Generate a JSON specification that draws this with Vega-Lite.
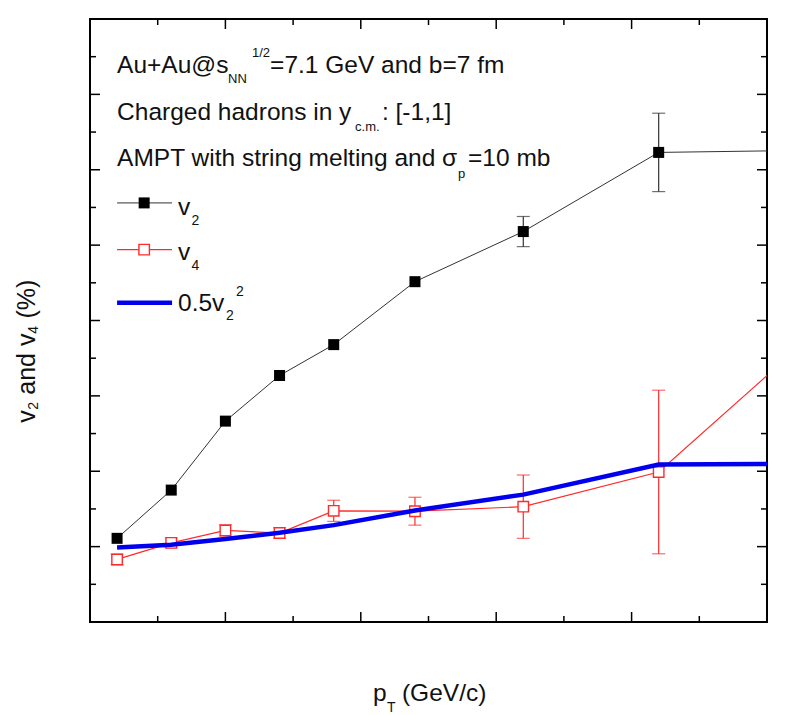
{
  "$schema": "https://vega.github.io/schema/vega-lite/v6.json",
  "width": 677,
  "height": 603,
  "autosize": "none",
  "padding": {"left": 90, "top": 19, "right": 22, "bottom": 93},
  "background": "white",
  "config": {
    "view": {"stroke": "black", "strokeWidth": 2},
    "text": {"font": "Liberation Sans", "color": "#111", "align": "left", "baseline": "alphabetic"},
    "axis": {"labelFont": "Liberation Sans", "grid": false}
  },
  "datasets": {
    "v2": [
      {"pT": 0.1, "v": 0.22},
      {"pT": 0.3, "v": 1.5},
      {"pT": 0.5, "v": 3.33},
      {"pT": 0.7, "v": 4.54},
      {"pT": 0.9, "v": 5.36},
      {"pT": 1.2, "v": 7.03},
      {"pT": 1.6, "v": 8.36, "lo": 7.96, "hi": 8.76},
      {"pT": 2.1, "v": 10.46, "lo": 9.42, "hi": 11.5},
      {"pT": 2.7, "v": 10.52}
    ],
    "v4": [
      {"pT": 0.1, "v": -0.34, "lo": -0.48, "hi": -0.2},
      {"pT": 0.3, "v": 0.1, "lo": -0.03, "hi": 0.23},
      {"pT": 0.5, "v": 0.43, "lo": 0.28, "hi": 0.58},
      {"pT": 0.7, "v": 0.36, "lo": 0.22, "hi": 0.5},
      {"pT": 0.9, "v": 0.95, "lo": 0.67, "hi": 1.23},
      {"pT": 1.2, "v": 0.94, "lo": 0.57, "hi": 1.31},
      {"pT": 1.6, "v": 1.06, "lo": 0.22, "hi": 1.9},
      {"pT": 2.1, "v": 1.98, "lo": -0.19, "hi": 4.15},
      {"pT": 2.7, "v": 5.82}
    ],
    "half_v2sq": [
      {"pT": 0.1, "v": -0.02},
      {"pT": 0.3, "v": 0.05},
      {"pT": 0.5, "v": 0.2},
      {"pT": 0.7, "v": 0.37},
      {"pT": 0.9, "v": 0.57},
      {"pT": 1.2, "v": 0.96},
      {"pT": 1.6, "v": 1.38},
      {"pT": 2.1, "v": 2.18},
      {"pT": 2.7, "v": 2.2}
    ],
    "xticks": [
      {"t": 0, "kind": "major"}, {"t": 0.25, "kind": "minor"}, {"t": 0.5, "kind": "major"}, {"t": 0.75, "kind": "minor"},
      {"t": 1, "kind": "major"}, {"t": 1.25, "kind": "minor"}, {"t": 1.5, "kind": "major"}, {"t": 1.75, "kind": "minor"},
      {"t": 2, "kind": "major"}, {"t": 2.25, "kind": "minor"}, {"t": 2.5, "kind": "major"}
    ],
    "yticks": [
      {"t": -2, "kind": "major"}, {"t": -1, "kind": "minor"}, {"t": 0, "kind": "major"}, {"t": 1, "kind": "minor"},
      {"t": 2, "kind": "major"}, {"t": 3, "kind": "minor"}, {"t": 4, "kind": "major"}, {"t": 5, "kind": "minor"},
      {"t": 6, "kind": "major"}, {"t": 7, "kind": "minor"}, {"t": 8, "kind": "major"}, {"t": 9, "kind": "minor"},
      {"t": 10, "kind": "major"}, {"t": 11, "kind": "minor"}, {"t": 12, "kind": "major"}, {"t": 13, "kind": "minor"},
      {"t": 14, "kind": "major"}
    ]
  },
  "data": {"values": [{}]},
  "layer": [
    {
      "data": {"name": "v2"},
      "mark": {"type": "line", "color": "#333", "strokeWidth": 1, "clip": true},
      "encoding": {
        "x": {"field": "pT", "type": "quantitative", "scale": {"domain": [0, 2.5], "nice": false, "zero": false},
          "axis": {"orient": "bottom", "values": [0, 0.5, 1, 1.5, 2, 2.5], "format": ".1f", "ticks": false, "tickSize": 0, "domain": false, "labelFontSize": 19.5, "labelPadding": 19, "labelFlush": false, "labelOverlap": false, "labelColor": "#111", "title": null}},
        "y": {"field": "v", "type": "quantitative", "scale": {"domain": [-2, 14], "nice": false, "zero": false},
          "axis": {"orient": "left", "values": [-2, 0, 2, 4, 6, 8, 10, 12, 14], "format": "d", "labelExpr": "replace(datum.label, '−', '-')", "ticks": false, "tickSize": 0, "domain": false, "labelFontSize": 20, "labelPadding": 10, "labelFlush": false, "labelOverlap": false, "labelColor": "#111", "title": null}}
      }
    },
    {
      "data": {"name": "xticks"},
      "mark": {"type": "tick", "orient": "vertical", "color": "black", "thickness": 1.5, "opacity": 1, "clip": true},
      "encoding": {
        "x": {"field": "t", "type": "quantitative", "axis": null},
        "y": {"datum": -2, "axis": null},
        "size": {"field": "kind", "type": "ordinal", "scale": {"domain": ["major", "minor"], "range": [20, 12]}, "legend": null}
      }
    },
    {
      "data": {"name": "xticks"},
      "mark": {"type": "tick", "orient": "vertical", "color": "black", "thickness": 1.5, "opacity": 1, "clip": true},
      "encoding": {
        "x": {"field": "t", "type": "quantitative", "axis": null},
        "y": {"datum": 14, "axis": null},
        "size": {"field": "kind", "type": "ordinal", "scale": {"domain": ["major", "minor"], "range": [20, 12]}, "legend": null}
      }
    },
    {
      "data": {"name": "yticks"},
      "mark": {"type": "tick", "orient": "horizontal", "color": "black", "thickness": 1.5, "opacity": 1, "clip": true},
      "encoding": {
        "y": {"field": "t", "type": "quantitative", "axis": null},
        "x": {"datum": 0, "axis": null},
        "size": {"field": "kind", "type": "ordinal", "scale": {"domain": ["major", "minor"], "range": [20, 12]}, "legend": null}
      }
    },
    {
      "data": {"name": "yticks"},
      "mark": {"type": "tick", "orient": "horizontal", "color": "black", "thickness": 1.5, "opacity": 1, "clip": true},
      "encoding": {
        "y": {"field": "t", "type": "quantitative", "axis": null},
        "x": {"datum": 2.5, "axis": null},
        "size": {"field": "kind", "type": "ordinal", "scale": {"domain": ["major", "minor"], "range": [20, 12]}, "legend": null}
      }
    },
    {
      "data": {"name": "v2"},
      "mark": {"type": "rule", "color": "#333", "strokeWidth": 1.2, "clip": true},
      "encoding": {
        "x": {"field": "pT", "type": "quantitative", "axis": null},
        "y": {"field": "lo", "type": "quantitative", "axis": null},
        "y2": {"field": "hi"}
      }
    },
    {
      "data": {"name": "v2"},
      "mark": {"type": "tick", "orient": "horizontal", "color": "#333", "size": 13, "thickness": 1.2, "clip": true},
      "encoding": {
        "x": {"field": "pT", "type": "quantitative", "axis": null},
        "y": {"field": "hi", "type": "quantitative", "axis": null}
      }
    },
    {
      "data": {"name": "v2"},
      "mark": {"type": "tick", "orient": "horizontal", "color": "#333", "size": 13, "thickness": 1.2, "clip": true},
      "encoding": {
        "x": {"field": "pT", "type": "quantitative", "axis": null},
        "y": {"field": "lo", "type": "quantitative", "axis": null}
      }
    },
    {
      "data": {"name": "v2"},
      "mark": {"type": "point", "shape": "square", "filled": true, "color": "black", "size": 121, "opacity": 1, "clip": true},
      "encoding": {
        "x": {"field": "pT", "type": "quantitative", "axis": null},
        "y": {"field": "v", "type": "quantitative", "axis": null}
      }
    },
    {
      "data": {"name": "v4"},
      "mark": {"type": "line", "color": "#ff2a2a", "strokeWidth": 1.2, "clip": true},
      "encoding": {
        "x": {"field": "pT", "type": "quantitative", "axis": null},
        "y": {"field": "v", "type": "quantitative", "axis": null}
      }
    },
    {
      "data": {"name": "v4"},
      "mark": {"type": "rule", "color": "#ff2a2a", "strokeWidth": 1.2, "clip": true},
      "encoding": {
        "x": {"field": "pT", "type": "quantitative", "axis": null},
        "y": {"field": "lo", "type": "quantitative", "axis": null},
        "y2": {"field": "hi"}
      }
    },
    {
      "data": {"name": "v4"},
      "mark": {"type": "tick", "orient": "horizontal", "color": "#ff2a2a", "size": 13, "thickness": 1.2, "clip": true},
      "encoding": {
        "x": {"field": "pT", "type": "quantitative", "axis": null},
        "y": {"field": "hi", "type": "quantitative", "axis": null}
      }
    },
    {
      "data": {"name": "v4"},
      "mark": {"type": "tick", "orient": "horizontal", "color": "#ff2a2a", "size": 13, "thickness": 1.2, "clip": true},
      "encoding": {
        "x": {"field": "pT", "type": "quantitative", "axis": null},
        "y": {"field": "lo", "type": "quantitative", "axis": null}
      }
    },
    {
      "data": {"name": "v4"},
      "mark": {"type": "point", "shape": "square", "filled": false, "fill": "white", "fillOpacity": 1, "stroke": "#ff2a2a", "strokeWidth": 1.4, "size": 110, "opacity": 1, "clip": true},
      "encoding": {
        "x": {"field": "pT", "type": "quantitative", "axis": null},
        "y": {"field": "v", "type": "quantitative", "axis": null}
      }
    },
    {
      "data": {"name": "half_v2sq"},
      "mark": {"type": "line", "color": "#0000ee", "strokeWidth": 4.5, "clip": true},
      "encoding": {
        "x": {"field": "pT", "type": "quantitative", "axis": null},
        "y": {"field": "v", "type": "quantitative", "axis": null}
      }
    },
    {"mark": {"type": "text", "text": "Au+Au@s", "fontSize": 24.5}, "encoding": {"x": {"datum": 0.1, "axis": null}, "y": {"datum": 12.57, "axis": null}}},
    {"mark": {"type": "text", "text": "NN", "fontSize": 13}, "encoding": {"x": {"datum": 0.51, "axis": null}, "y": {"datum": 12.3, "axis": null}}},
    {"mark": {"type": "text", "text": "1/2", "fontSize": 13}, "encoding": {"x": {"datum": 0.598, "axis": null}, "y": {"datum": 12.98, "axis": null}}},
    {"mark": {"type": "text", "text": "=7.1 GeV and b=7 fm", "fontSize": 24.5}, "encoding": {"x": {"datum": 0.665, "axis": null}, "y": {"datum": 12.57, "axis": null}}},
    {"mark": {"type": "text", "text": "Charged hadrons in y", "fontSize": 24.5}, "encoding": {"x": {"datum": 0.1, "axis": null}, "y": {"datum": 11.33, "axis": null}}},
    {"mark": {"type": "text", "text": "c.m.", "fontSize": 13}, "encoding": {"x": {"datum": 0.979, "axis": null}, "y": {"datum": 11.02, "axis": null}}},
    {"mark": {"type": "text", "text": ": [-1,1]", "fontSize": 24.5}, "encoding": {"x": {"datum": 1.078, "axis": null}, "y": {"datum": 11.33, "axis": null}}},
    {"mark": {"type": "text", "text": "AMPT with string melting and σ", "fontSize": 24.5}, "encoding": {"x": {"datum": 0.1, "axis": null}, "y": {"datum": 10.09, "axis": null}}},
    {"mark": {"type": "text", "text": "p", "fontSize": 13}, "encoding": {"x": {"datum": 1.359, "axis": null}, "y": {"datum": 9.79, "axis": null}}},
    {"mark": {"type": "text", "text": "=10 mb", "fontSize": 24.5}, "encoding": {"x": {"datum": 1.396, "axis": null}, "y": {"datum": 10.09, "axis": null}}},
    {"mark": {"type": "rule", "color": "#333", "strokeWidth": 1}, "encoding": {"x": {"datum": 0.1, "axis": null}, "x2": {"datum": 0.303}, "y": {"datum": 9.12, "axis": null}}},
    {"mark": {"type": "point", "shape": "square", "filled": true, "color": "black", "size": 121, "opacity": 1}, "encoding": {"x": {"datum": 0.2, "axis": null}, "y": {"datum": 9.12, "axis": null}}},
    {"mark": {"type": "text", "text": "v", "fontSize": 24.5}, "encoding": {"x": {"datum": 0.325, "axis": null}, "y": {"datum": 8.81, "axis": null}}},
    {"mark": {"type": "text", "text": "2", "fontSize": 14}, "encoding": {"x": {"datum": 0.375, "axis": null}, "y": {"datum": 8.54, "axis": null}}},
    {"mark": {"type": "rule", "color": "#ff2a2a", "strokeWidth": 1.2}, "encoding": {"x": {"datum": 0.1, "axis": null}, "x2": {"datum": 0.303}, "y": {"datum": 7.88, "axis": null}}},
    {"mark": {"type": "point", "shape": "square", "filled": false, "fill": "white", "fillOpacity": 1, "stroke": "#ff2a2a", "strokeWidth": 1.4, "size": 110, "opacity": 1}, "encoding": {"x": {"datum": 0.2, "axis": null}, "y": {"datum": 7.88, "axis": null}}},
    {"mark": {"type": "text", "text": "v", "fontSize": 24.5}, "encoding": {"x": {"datum": 0.325, "axis": null}, "y": {"datum": 7.61, "axis": null}}},
    {"mark": {"type": "text", "text": "4", "fontSize": 14}, "encoding": {"x": {"datum": 0.375, "axis": null}, "y": {"datum": 7.35, "axis": null}}},
    {"mark": {"type": "rule", "color": "#0000ee", "strokeWidth": 4.5}, "encoding": {"x": {"datum": 0.1, "axis": null}, "x2": {"datum": 0.303}, "y": {"datum": 6.47, "axis": null}}},
    {"mark": {"type": "text", "text": "0.5v", "fontSize": 24.5}, "encoding": {"x": {"datum": 0.325, "axis": null}, "y": {"datum": 6.26, "axis": null}}},
    {"mark": {"type": "text", "text": "2", "fontSize": 14}, "encoding": {"x": {"datum": 0.502, "axis": null}, "y": {"datum": 6.02, "axis": null}}},
    {"mark": {"type": "text", "text": "2", "fontSize": 14}, "encoding": {"x": {"datum": 0.539, "axis": null}, "y": {"datum": 6.64, "axis": null}}},
    {"mark": {"type": "text", "text": "p", "fontSize": 24.5}, "encoding": {"x": {"datum": 1.045, "axis": null}, "y": {"datum": -4.105, "axis": null}}},
    {"mark": {"type": "text", "text": "T", "fontSize": 14}, "encoding": {"x": {"datum": 1.097, "axis": null}, "y": {"datum": -4.4, "axis": null}}},
    {"mark": {"type": "text", "text": "(GeV/c)", "fontSize": 24.5}, "encoding": {"x": {"datum": 1.152, "axis": null}, "y": {"datum": -4.105, "axis": null}}},
    {"mark": {"type": "text", "text": "v", "fontSize": 25, "angle": 270}, "encoding": {"x": {"datum": -0.203, "axis": null}, "y": {"datum": 3.29, "axis": null}}},
    {"mark": {"type": "text", "text": "2", "fontSize": 14, "angle": 270}, "encoding": {"x": {"datum": -0.192, "axis": null}, "y": {"datum": 3.63, "axis": null}}},
    {"mark": {"type": "text", "text": "and v", "fontSize": 25, "angle": 270}, "encoding": {"x": {"datum": -0.203, "axis": null}, "y": {"datum": 4.03, "axis": null}}},
    {"mark": {"type": "text", "text": "4", "fontSize": 14, "angle": 270}, "encoding": {"x": {"datum": -0.192, "axis": null}, "y": {"datum": 5.65, "axis": null}}},
    {"mark": {"type": "text", "text": "(%)", "fontSize": 25, "angle": 270}, "encoding": {"x": {"datum": -0.203, "axis": null}, "y": {"datum": 6.05, "axis": null}}}
  ]
}
